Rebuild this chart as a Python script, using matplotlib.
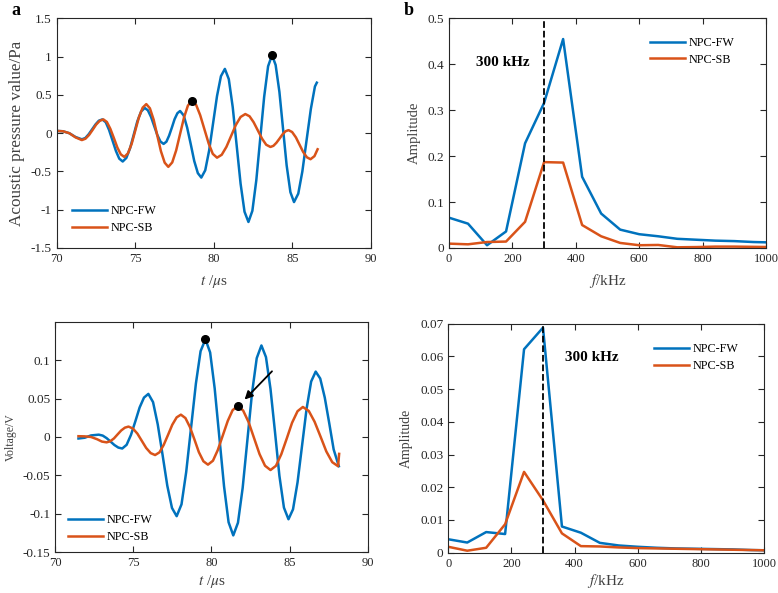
import matplotlib.pyplot as plt

plt.rcParams['font.family'] = ['Liberation Serif', 'DejaVu Serif']
plt.rcParams['mathtext.fontset'] = 'stix'
plt.rcParams['font.size'] = 9.5

BLEU = '#0072BD'
ORANGE = '#D95319'

# (a) haut : pression acoustique (Pa) en fonction du temps (us)
t_fw_p = [70.0, 70.4, 70.8, 71.2, 71.6, 71.82, 72.03, 72.25, 72.47, 72.68, 72.9,
          73.12, 73.33, 73.55, 73.77, 73.98, 74.2, 74.43, 74.67, 74.9, 75.13, 75.37, 75.6,
          75.8, 76.0, 76.2, 76.4, 76.6, 76.8, 76.98, 77.15, 77.33, 77.5, 77.68, 77.85,
          78.08, 78.3, 78.53, 78.75, 78.98, 79.2, 79.45, 79.7, 79.95, 80.2, 80.45, 80.7,
          80.95, 81.2, 81.45, 81.7, 81.95, 82.2, 82.45, 82.7, 82.95, 83.2, 83.45, 83.7,
          83.93, 84.17, 84.4, 84.63, 84.87, 85.1, 85.37, 85.63, 85.9, 86.17, 86.43, 86.55]
p_fw = [0.03, 0.025, 0.0, -0.05, -0.08, -0.063, -0.015, 0.05, 0.115, 0.163, 0.18,
        0.143, 0.043, -0.095, -0.233, -0.333, -0.37, -0.323, -0.195, -0.02, 0.155, 0.283, 0.33,
        0.299, 0.213, 0.095, -0.023, -0.109, -0.14, -0.111, -0.033, 0.075, 0.183, 0.261, 0.29,
        0.232, 0.073, -0.145, -0.363, -0.522, -0.58, -0.485, -0.225, 0.13, 0.485, 0.745, 0.84,
        0.706, 0.34, -0.16, -0.66, -1.026, -1.16, -1.014, -0.615, -0.07, 0.475, 0.874, 1.02,
        0.891, 0.54, 0.06, -0.42, -0.771, -0.9, -0.79, -0.5, -0.09, 0.315, 0.61, 0.66]
t_sb_p = [70.0, 70.4, 70.8, 71.2, 71.6, 71.83, 72.06, 72.29, 72.51, 72.74, 72.97,
          73.19, 73.41, 73.64, 73.86, 74.08, 74.3, 74.53, 74.77, 75.0, 75.23, 75.47, 75.7,
          75.93, 76.17, 76.4, 76.63, 76.87, 77.1, 77.35, 77.6, 77.85, 78.1, 78.35, 78.6,
          78.87, 79.13, 79.4, 79.67, 79.93, 80.2, 80.5, 80.8, 81.1, 81.4, 81.7, 82.0,
          82.27, 82.53, 82.8, 83.07, 83.33, 83.6, 83.79, 83.98, 84.18, 84.37, 84.56, 84.75,
          84.98, 85.22, 85.45, 85.68, 85.92, 86.15, 86.4, 86.6]
p_sb = [0.03, 0.025, 0.0, -0.055, -0.09, -0.072, -0.023, 0.045, 0.113, 0.162, 0.18,
        0.147, 0.058, -0.065, -0.188, -0.277, -0.31, -0.264, -0.138, 0.035, 0.208, 0.334, 0.38,
        0.325, 0.175, -0.03, -0.235, -0.385, -0.44, -0.382, -0.225, -0.01, 0.205, 0.362, 0.42,
        0.37, 0.235, 0.05, -0.135, -0.27, -0.32, -0.282, -0.178, -0.035, 0.108, 0.212, 0.25,
        0.221, 0.143, 0.035, -0.073, -0.151, -0.18, -0.165, -0.125, -0.07, -0.015, 0.025, 0.04,
        0.015, -0.055, -0.15, -0.245, -0.315, -0.34, -0.3, -0.21]
pics_p_t = [78.6, 83.7]
pics_p = [0.42, 1.02]

# (a) bas : tension (V) en fonction du temps (us)
t_fw_v = [71.5, 71.9, 72.3, 72.8, 73.05, 73.3, 73.55, 73.8, 74.05, 74.3,
          74.58, 74.86, 75.14, 75.41, 75.69, 75.97, 76.27, 76.57, 76.88, 77.18, 77.48, 77.78,
          78.09, 78.39, 78.7, 79.01, 79.31, 79.62, 79.92, 80.21, 80.51, 80.81, 81.1, 81.4,
          81.7, 82.0, 82.3, 82.6, 82.9, 83.2, 83.49, 83.78, 84.07, 84.35, 84.64, 84.93,
          85.22, 85.51, 85.8, 86.09, 86.38, 86.67, 86.96, 87.25, 87.54, 87.82, 88.15]
v_fw = [-0.002, -0.001, 0.002, 0.003, 0.0018, -0.0015, -0.006, -0.0105, -0.0138, -0.015,
        -0.0102, 0.0028, 0.0205, 0.0383, 0.0512, 0.056, 0.0453, 0.0163, -0.0235, -0.0633, -0.0923, -0.103,
        -0.0876, -0.0455, 0.012, 0.0695, 0.1116, 0.127, 0.1099, 0.0633, -0.0005, -0.0643, -0.1109, -0.128,
        -0.1115, -0.0663, -0.0045, 0.0573, 0.1025, 0.119, 0.1039, 0.0625, 0.006, -0.0505, -0.0919, -0.107,
        -0.0941, -0.059, -0.011, 0.037, 0.0721, 0.085, 0.076, 0.0513, 0.0175, -0.0163, -0.038]
t_sb_v = [71.5, 71.9, 72.3, 72.7, 73.0, 73.3, 73.53, 73.77, 74.0, 74.23, 74.47, 74.7,
          74.98, 75.27, 75.55, 75.83, 76.12, 76.4, 76.68, 76.95, 77.23, 77.5, 77.78, 78.05,
          78.34, 78.63, 78.92, 79.2, 79.49, 79.78, 80.1, 80.41, 80.73, 81.05, 81.36, 81.68,
          82.03, 82.38, 82.73, 83.08, 83.43, 83.78, 84.13, 84.47, 84.82, 85.16, 85.51, 85.85,
          86.23, 86.6, 86.98, 87.35, 87.73, 88.1, 88.17]
v_sb = [0.001, 0.0008, 0.0, -0.003, -0.006, -0.007, -0.0056, -0.0019, 0.0033, 0.0084, 0.0121, 0.0135,
        0.011, 0.0043, -0.005, -0.0143, -0.021, -0.0235, -0.02, -0.0104, 0.0028, 0.0159, 0.0255, 0.029,
        0.0246, 0.0128, -0.0035, -0.0198, -0.0316, -0.036, -0.0309, -0.017, 0.002, 0.021, 0.0349, 0.04,
        0.0344, 0.0193, -0.0015, -0.0223, -0.0374, -0.043, -0.0375, -0.0225, -0.002, 0.0185, 0.0335, 0.039,
        0.0338, 0.0198, 0.0005, -0.0188, -0.0328, -0.038, -0.022]
pics_v_t = [79.62, 81.68]
pics_v = [0.127, 0.04]

# (b) spectres (pas de 60 kHz)
freq = [0, 60, 120, 180, 240, 300, 360, 420, 480, 540, 600, 660, 720, 780, 840, 900, 960, 1020]
amp_fw_p = [0.066, 0.053, 0.006, 0.036, 0.228, 0.316, 0.455, 0.155, 0.075, 0.04,
            0.03, 0.0255, 0.02, 0.018, 0.016, 0.015, 0.013, 0.012]
amp_sb_p = [0.0095, 0.008, 0.013, 0.014, 0.057, 0.187, 0.186, 0.05, 0.0255, 0.011,
            0.006, 0.0066, 0.0015, 0.002, 0.003, 0.003, 0.0025, 0.002]
amp_fw_v = [0.0041, 0.0031, 0.0063, 0.0057, 0.0622, 0.0688, 0.008, 0.0061, 0.003, 0.0022,
            0.0018, 0.0015, 0.0013, 0.0012, 0.0011, 0.001, 0.0008, 0.0007]
amp_sb_v = [0.0018, 0.0006, 0.0015, 0.0087, 0.0247, 0.016, 0.0059, 0.002, 0.0019, 0.0016,
            0.0014, 0.0013, 0.0012, 0.0011, 0.001, 0.0009, 0.0008, 0.0007]


def style_axe(ax):
    '''Boite fermee et graduations vers l'interieur, facon MATLAB'''
    ax.tick_params(direction='in', top=True, right=True, length=4, width=0.8,
                   colors='#262626', labelcolor='#262626', labelsize=9.5)
    ax.tick_params(axis='x', labelsize=9)
    for s in ax.spines.values():
        s.set_linewidth(0.8)
        s.set_color('#262626')


def legende(ax, loc, pos):
    ax.legend(loc=loc, bbox_to_anchor=pos, frameon=False, fontsize=8.7,
              handlelength=2.9, handletextpad=0.3, borderpad=0, borderaxespad=0,
              labelspacing=0.4)


fig = plt.figure(figsize=(7.78, 5.93), dpi=100)
ax1 = fig.add_axes([0.0729, 0.5818, 0.404, 0.3872])
ax2 = fig.add_axes([0.5771, 0.5818, 0.4075, 0.3872])
ax3 = fig.add_axes([0.0707, 0.0686, 0.402, 0.3884])
ax4 = fig.add_axes([0.5762, 0.0680, 0.4058, 0.3861])

# haut gauche
ax1.plot(t_fw_p, p_fw, color=BLEU, lw=1.8, label='NPC-FW')
ax1.plot(t_sb_p, p_sb, color=ORANGE, lw=1.8, label='NPC-SB')
ax1.plot(pics_p_t, pics_p, 'o', color='black', ms=5.5)
ax1.set_xlim(70, 90)
ax1.set_ylim(-1.5, 1.5)
ax1.set_xticks([70, 75, 80, 85, 90])
ax1.set_yticks([-1.5, -1, -0.5, 0, 0.5, 1, 1.5])
ax1.set_yticklabels(['-1.5', '-1', '-0.5', '0', '0.5', '1', '1.5'])
ax1.set_xlabel(r'$t$ /$\mu$s', fontsize=11, color='#404040', labelpad=6)
ax1.set_ylabel('Acoustic pressure value/Pa', fontsize=12.3, color='#404040', labelpad=4)
legende(ax1, 'lower left', (0.049, 0.062))
style_axe(ax1)

# haut droite
ax2.plot(freq, amp_fw_p, color=BLEU, lw=1.8, label='NPC-FW')
ax2.plot(freq, amp_sb_p, color=ORANGE, lw=1.8, label='NPC-SB')
ax2.axvline(300, color='black', ls='--', lw=1.3)
ax2.text(86, 0.403, '300 kHz', fontsize=11, fontweight='bold', va='center')
ax2.set_xlim(0, 1000)
ax2.set_ylim(0, 0.5)
ax2.set_xticks([0, 200, 400, 600, 800, 1000])
ax2.set_yticks([0, 0.1, 0.2, 0.3, 0.4, 0.5])
ax2.set_yticklabels(['0', '0.1', '0.2', '0.3', '0.4', '0.5'])
ax2.set_xlabel(r'$f$/kHz', fontsize=11, color='#404040', labelpad=5)
ax2.set_ylabel('Amplitude', fontsize=10.5, color='#404040', labelpad=5)
legende(ax2, 'upper right', (0.9, 0.92))
style_axe(ax2)

# bas gauche
ax3.plot(t_fw_v, v_fw, color=BLEU, lw=1.8, label='NPC-FW')
ax3.plot(t_sb_v, v_sb, color=ORANGE, lw=1.8, label='NPC-SB')
ax3.plot(pics_v_t, pics_v, 'o', color='black', ms=5.5)
ax3.annotate('', xy=(82.0, 0.046), xytext=(84.0, 0.088),
             arrowprops=dict(arrowstyle='-|>', color='black', lw=1.3, mutation_scale=12))
ax3.set_xlim(70, 90)
ax3.set_ylim(-0.15, 0.1495)
ax3.set_xticks([70, 75, 80, 85, 90])
ax3.set_yticks([-0.15, -0.1, -0.05, 0, 0.05, 0.1])
ax3.set_yticklabels(['-0.15', '-0.1', '-0.05', '0', '0.05', '0.1'])
ax3.set_xlabel(r'$t$ /$\mu$s', fontsize=11, color='#404040', labelpad=3)
ax3.set_ylabel('Voltage/V', fontsize=8.5, color='#404040', labelpad=4)
legende(ax3, 'lower left', (0.042, 0.04))
style_axe(ax3)

# bas droite
ax4.plot(freq, amp_fw_v, color=BLEU, lw=1.8, label='NPC-FW')
ax4.plot(freq, amp_sb_v, color=ORANGE, lw=1.8, label='NPC-SB')
ax4.axvline(300, color='black', ls='--', lw=1.3)
ax4.text(370, 0.0598, '300 kHz', fontsize=11, fontweight='bold', va='center')
ax4.set_xlim(0, 1000)
ax4.set_ylim(0, 0.07)
ax4.set_xticks([0, 200, 400, 600, 800, 1000])
ax4.set_yticks([0, 0.01, 0.02, 0.03, 0.04, 0.05, 0.06, 0.07])
ax4.set_yticklabels(['0', '0.01', '0.02', '0.03', '0.04', '0.05', '0.06', '0.07'])
ax4.set_xlabel(r'$f$/kHz', fontsize=11, color='#404040', labelpad=2)
ax4.set_ylabel('Amplitude', fontsize=10, color='#404040', labelpad=5)
legende(ax4, 'upper right', (0.92, 0.915))
style_axe(ax4)

fig.text(0.015, 0.983, 'a', fontsize=13, fontweight='bold', va='center')
fig.text(0.519, 0.983, 'b', fontsize=13, fontweight='bold', va='center')

fig.savefig('out.png', dpi=100)
